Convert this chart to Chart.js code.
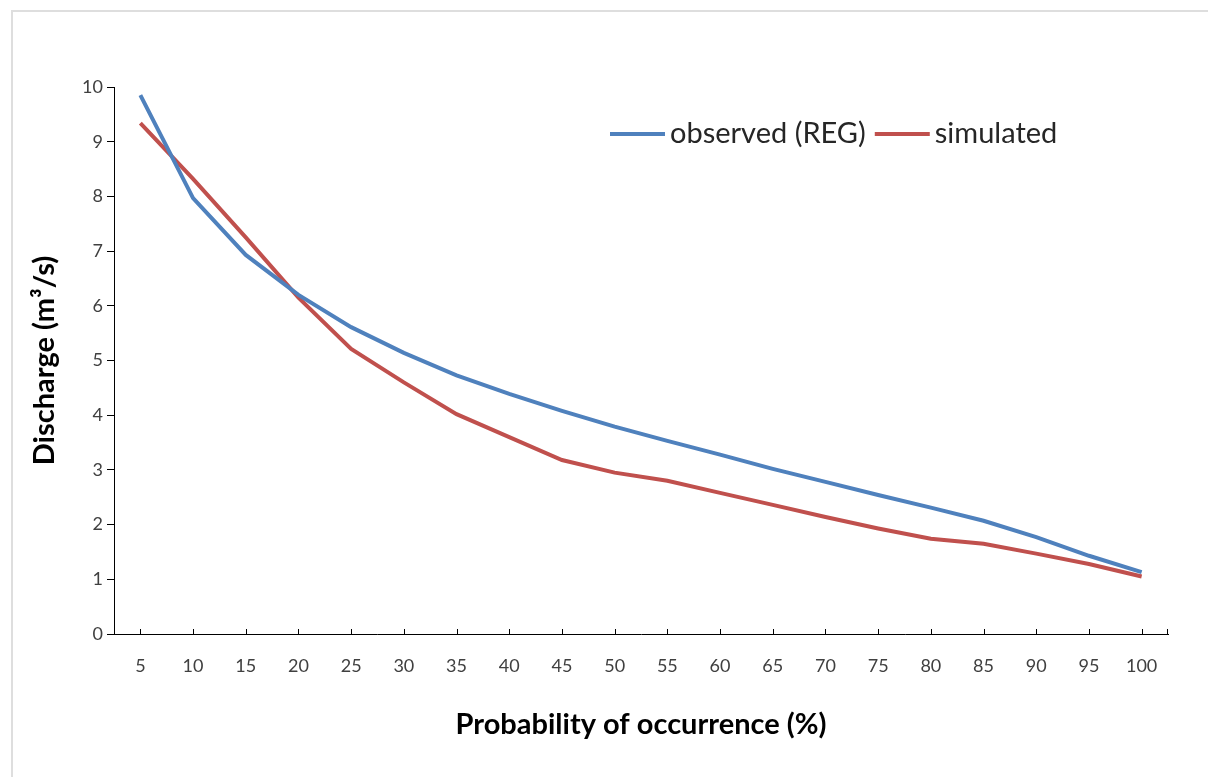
<!DOCTYPE html>
<html>
<head>
<meta charset="utf-8">
<script src="https://cdn.jsdelivr.net/npm/chart.js@4.4.1/dist/chart.umd.min.js"></script>
<style>
  html, body { margin: 0; padding: 0; background: #fff; }
  #wrap { position: relative; width: 1208px; height: 777px; overflow: hidden; }
  #frame { position: absolute; left: 11px; top: 10px; right: -2px; bottom: -2px;
           border: 2px solid #dedede; }
  #wrap canvas { position: absolute; left: 0; top: 0; }
</style>
</head>
<body>
<div id="wrap">
  <div id="frame"></div>
  <canvas id="fdc" width="1208" height="777"></canvas>
</div>
<script>
// probability of occurrence (%)
const categories = ['5', '10', '15', '20', '25', '30', '35', '40', '45', '50',
  '55', '60', '65', '70', '75', '80', '85', '90', '95', '100'];

const observed = [9.85, 7.97, 6.93, 6.2, 5.61, 5.14, 4.73, 4.39, 4.08, 3.79,
  3.53, 3.28, 3.02, 2.78, 2.54, 2.31, 2.07, 1.77, 1.43, 1.13];

const simulated = [9.34, 8.32, 7.25, 6.15, 5.21, 4.6, 4.02, 3.6, 3.18, 2.95,
  2.8, 2.58, 2.36, 2.14, 1.93, 1.74, 1.65, 1.47, 1.28, 1.05];

const yTicks = [0, 1, 2, 3, 4, 5, 6, 7, 8, 9, 10];

const FONT = 'Lato, "Open Sans", sans-serif';
const BLUE = '#4f81bd';
const RED = '#c0504d';

// tick marks on the x axis point up into the plot, like the Excel original
const innerTicks = {
  id: 'innerTicks',
  afterDatasetsDraw(chart) {
    const { ctx, chartArea: { right, bottom }, scales: { x } } = chart;
    ctx.save();
    ctx.strokeStyle = '#000';
    ctx.lineWidth = 1;
    ctx.beginPath();
    for (let i = 0; i < categories.length; i++) {
      const px = Math.round(x.getPixelForTick(i)) + 0.5;
      ctx.moveTo(px, bottom - 5);
      ctx.lineTo(px, bottom + 1);
    }
    ctx.moveTo(Math.round(right) - 0.5, bottom - 5);
    ctx.lineTo(Math.round(right) - 0.5, bottom + 1);
    ctx.stroke();
    ctx.restore();
  }
};

// legend sits inside the plot area, top right
const insideLegend = {
  id: 'insideLegend',
  afterDraw(chart) {
    const { ctx, chartArea } = chart;
    ctx.save();
    ctx.font = '29px ' + FONT;
    ctx.textBaseline = 'middle';
    ctx.fillStyle = '#262626';
    let lx = chartArea.left + 496;
    const ly = chartArea.top + 47;
    chart.data.datasets.forEach(ds => {
      ctx.strokeStyle = ds.borderColor;
      ctx.lineWidth = 4;
      ctx.beginPath();
      ctx.moveTo(lx, ly);
      ctx.lineTo(lx + 55, ly);
      ctx.stroke();
      lx += 60;
      ctx.fillText(ds.label, lx, ly);
      lx += ctx.measureText(ds.label).width + 9;
    });
    ctx.restore();
  }
};

new Chart(document.getElementById('fdc'), {
  type: 'line',
  data: {
    labels: categories,
    datasets: [
      {
        label: 'observed (REG)',
        data: observed,
        borderColor: BLUE,
        backgroundColor: BLUE,
        borderWidth: 4,
        pointRadius: 0,
        tension: 0
      },
      {
        label: 'simulated',
        data: simulated,
        borderColor: RED,
        backgroundColor: RED,
        borderWidth: 4,
        pointRadius: 0,
        tension: 0
      }
    ]
  },
  options: {
    responsive: false,
    animation: false,
    layout: { padding: { top: 87, right: 40, left: 0, bottom: 0 } },
    plugins: {
      legend: { display: false },
      tooltip: { enabled: false }
    },
    scales: {
      x: {
        offset: true,
        grid: { display: true, drawOnChartArea: false, drawTicks: false },
        border: { color: '#000', width: 1 },
        ticks: { color: '#404040', font: { family: FONT, size: 18 }, padding: 21,
                 maxRotation: 0, autoSkip: false },
        title: {
          display: true,
          text: 'Probability of occurrence (%)',
          color: '#000',
          font: { family: FONT, size: 29, weight: 'bold' },
          padding: { top: 0, bottom: 35 }
        },
        afterFit: s => { s.height = 143; }
      },
      y: {
        min: 0,
        max: 10,
        afterBuildTicks: s => { s.ticks = yTicks.map(v => ({ value: v })); },
        grid: { drawOnChartArea: false, drawTicks: true, tickLength: 7, color: '#000' },
        border: { color: '#000', width: 1 },
        ticks: { color: '#404040', font: { family: FONT, size: 18 }, padding: 4 },
        title: {
          display: true,
          text: 'Discharge (m³/s)',
          color: '#000',
          font: { family: FONT, size: 29, weight: 'bold' },
          padding: { top: 27, bottom: 0 }
        },
        afterFit: s => { s.width = 114; }
      }
    }
  },
  plugins: [innerTicks, insideLegend]
});
</script>
</body>
</html>
